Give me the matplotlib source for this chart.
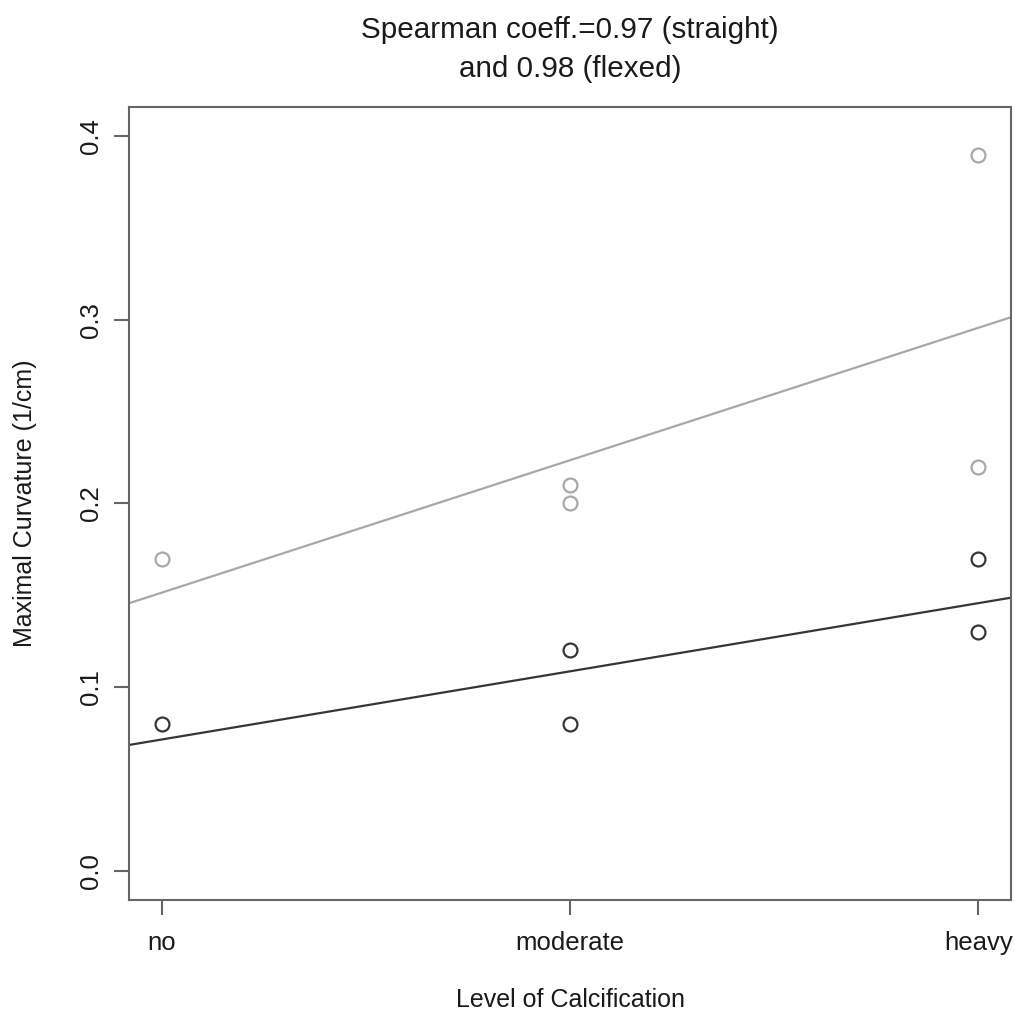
import numpy as np
import matplotlib
matplotlib.use("Agg")
import matplotlib.pyplot as plt

plt.rcParams['font.family'] = ['Liberation Sans', 'DejaVu Sans']

# categories on the x axis (coded 1, 2, 3)
levels = ['no', 'moderate', 'heavy']

# flexed (grey) measurements
flexed_x = [1, 2, 2, 3, 3]
flexed_y = [0.17, 0.21, 0.20, 0.39, 0.22]

# straight (dark) measurements
straight_x = [1, 2, 2, 3, 3]
straight_y = [0.08, 0.12, 0.08, 0.17, 0.13]

yticks = [0.0, 0.1, 0.2, 0.3, 0.4]

W, H = 1016, 1019
fig = plt.figure(figsize=(W / 100, H / 100), dpi=100)
ax = fig.add_axes([129/W, 1 - 900/H, 882/W, 793/H])

grey = '#a8a8a8'
dark = '#363636'
txt = '#1a1a1a'

ax.plot(flexed_x, flexed_y, 'o', mfc='none', mec=grey, ms=10, mew=1.6)
ax.plot(straight_x, straight_y, 'o', mfc='none', mec=dark, ms=10, mew=1.6)

# least squares fits, as abline(lm(...)) in R
b1, a1 = np.polyfit(flexed_x, flexed_y, 1)
b2, a2 = np.polyfit(straight_x, straight_y, 1)
ax.axline((0, a1), slope=b1, color=grey, lw=1.6)
ax.axline((0, a2), slope=b2, color=dark, lw=1.6)

ax.set_xlim(0.92, 3.08)
ax.set_ylim(-0.016, 0.416)

ax.set_xticks([1, 2, 3])
ax.set_xticklabels(levels)
ax.set_yticks(yticks)
ax.set_yticklabels(['%.1f' % v for v in yticks], rotation=90, va='center')

for s in ax.spines.values():
    s.set_color('#666666')
    s.set_linewidth(1.5)
ax.tick_params(direction='out', length=11, width=1.5, color='#666666',
               labelsize=18.5, labelcolor=txt)
ax.tick_params(axis='x', pad=11)
ax.tick_params(axis='y', pad=8)

fig.text(570/W, 1 - 1000/H, 'Level of Calcification', fontsize=18, color=txt,
         ha='center', va='center')
fig.text(25/W, 1 - 503/H, 'Maximal Curvature (1/cm)', fontsize=18, color=txt,
         ha='center', va='center', rotation=90)
fig.text(570/W, 1 - 30/H, 'Spearman coeff.=0.97 (straight)', fontsize=21.3, color=txt,
         ha='center', va='center')
fig.text(570/W, 1 - 69/H, 'and 0.98 (flexed)', fontsize=21.3, color=txt,
         ha='center', va='center')

fig.savefig('out.png', dpi=100, facecolor='white')
